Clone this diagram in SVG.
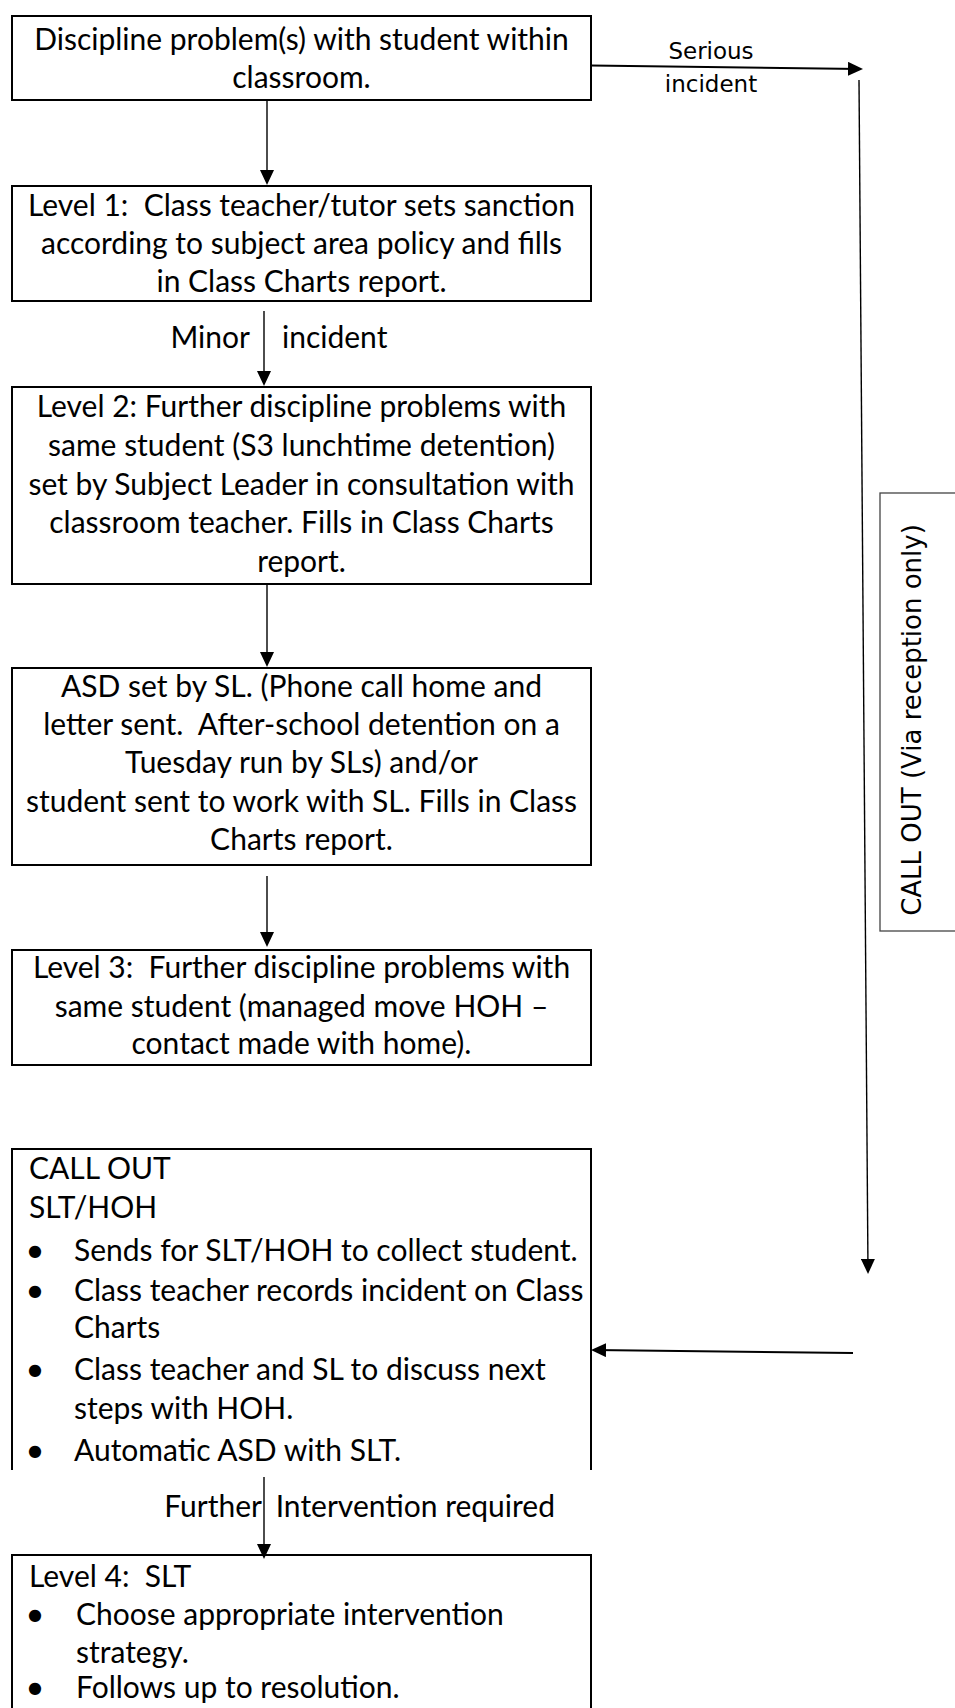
<svg xmlns="http://www.w3.org/2000/svg" width="955" height="1708" viewBox="0 0 955 1708">
<defs>
<style>
.box{fill:#fff;stroke:#000;stroke-width:2}
.open{fill:none;stroke:#000;stroke-width:2}
.t{font-family:Lato,"Liberation Sans",sans-serif;font-size:30px;fill:#000;white-space:pre}
.c{text-anchor:middle}
.v{font-family:"DejaVu Sans",Verdana,sans-serif;fill:#000}
.ln{fill:none;stroke:#000;stroke-width:1.4}
.lnb{fill:none;stroke:#000;stroke-width:2}
.bul{font-family:"DejaVu Sans",sans-serif;font-size:16px;text-anchor:middle}
</style>
<marker id="ah" viewBox="0 0 15 14" refX="12" refY="7" markerWidth="15" markerHeight="14" markerUnits="userSpaceOnUse" orient="auto">
<path d="M0,0 L15,7 L0,14 z" fill="#000"/>
</marker>
</defs>
<rect width="955" height="1708" fill="#fff"/>

<g id="connectors">
<line class="ln" x1="267" y1="100" x2="267" y2="182" marker-end="url(#ah)"/>
<line class="lnb" x1="591" y1="65.5" x2="860" y2="69" marker-end="url(#ah)"/>
<line class="ln" x1="859" y1="80" x2="868" y2="1271" marker-end="url(#ah)"/>
<line class="lnb" x1="853" y1="1353" x2="594" y2="1350" marker-end="url(#ah)"/>
<line class="ln" x1="264" y1="311" x2="264" y2="383" marker-end="url(#ah)"/>
<line class="ln" x1="267" y1="584" x2="267" y2="664" marker-end="url(#ah)"/>
<line class="ln" x1="267" y1="876" x2="267" y2="944" marker-end="url(#ah)"/>
<line class="ln" x1="264" y1="1477" x2="264" y2="1556" marker-end="url(#ah)"/>
<text class="v" font-size="23" text-anchor="middle" x="711" y="59">Serious</text>
<text class="v" font-size="23" text-anchor="middle" x="711" y="92">incident</text>
<text class="t" text-anchor="end" x="250" y="348">Minor</text>
<text class="t" x="282" y="348">incident</text>
<text class="t" y="1517"><tspan x="262" text-anchor="end">Further</tspan><tspan x="268"> Intervention required</tspan></text>
</g>

<g id="n1">
<rect class="box" x="12" y="16" width="579" height="84"/>
<text class="t c" x="301.5" y="50">Discipline problem(s) with student within</text>
<text class="t c" x="301.5" y="88">classroom.</text>
</g>

<g id="n2">
<rect class="box" x="12" y="186" width="579" height="115"/>
<text class="t c" x="301.5" y="216">Level 1:  Class teacher/tutor sets sanction</text>
<text class="t c" x="301.5" y="254">according to subject area policy and fills</text>
<text class="t c" x="301.5" y="292">in Class Charts report.</text>
</g>

<g id="n3">
<rect class="box" x="12" y="387" width="579" height="197"/>
<text class="t c" x="301.5" y="417">Level 2: Further discipline problems with</text>
<text class="t c" x="301.5" y="456">same student (S3 lunchtime detention)</text>
<text class="t c" x="301.5" y="495">set by Subject Leader in consultation with</text>
<text class="t c" x="301.5" y="533">classroom teacher. Fills in Class Charts</text>
<text class="t c" x="301.5" y="572">report.</text>
</g>

<g id="n4">
<rect class="box" x="12" y="668" width="579" height="197"/>
<text class="t c" x="301.5" y="697">ASD set by SL. (Phone call home and</text>
<text class="t c" x="301.5" y="735">letter sent.  After-school detention on a</text>
<text class="t c" x="301.5" y="773">Tuesday run by SLs) and/or</text>
<text class="t c" x="301.5" y="812">student sent to work with SL. Fills in Class</text>
<text class="t c" x="301.5" y="850">Charts report.</text>
</g>

<g id="n5">
<rect class="box" x="12" y="950" width="579" height="115"/>
<text class="t c" x="301.5" y="978">Level 3:  Further discipline problems with</text>
<text class="t c" x="301.5" y="1017">same student (managed move HOH –</text>
<text class="t c" x="301.5" y="1054">contact made with home).</text>
</g>

<g id="n6">
<path class="open" d="M12,1470 V1149 H591 V1470"/>
<text class="t" x="29" y="1179">CALL OUT</text>
<text class="t" x="29" y="1218">SLT/HOH</text>
<text class="bul" x="35" y="1256">●</text>
<text class="t" x="74" y="1261">Sends for SLT/HOH to collect student.</text>
<text class="bul" x="35" y="1296">●</text>
<text class="t" x="74" y="1301">Class teacher records incident on Class</text>
<text class="t" x="74" y="1338">Charts</text>
<text class="bul" x="35" y="1375">●</text>
<text class="t" x="74" y="1380">Class teacher and SL to discuss next</text>
<text class="t" x="74" y="1419">steps with HOH.</text>
<text class="bul" x="35" y="1456">●</text>
<text class="t" x="74" y="1461">Automatic ASD with SLT.</text>
</g>

<g id="n7">
<path class="open" d="M12,1712 V1555 H591 V1712"/>
<text class="t" x="29" y="1587">Level 4:  SLT</text>
<text class="bul" x="35" y="1620">●</text>
<text class="t" x="76" y="1625">Choose appropriate intervention</text>
<text class="t" x="76" y="1663">strategy.</text>
<text class="bul" x="35" y="1693">●</text>
<text class="t" x="76" y="1698">Follows up to resolution.</text>
</g>

<g id="n8">
<rect x="880" y="493" width="100" height="438" fill="#fff" stroke="#444" stroke-width="1.3"/>
<text class="v" font-size="26" text-anchor="middle" x="921" y="720" transform="rotate(-90 921 720)">CALL OUT (Via reception only)</text>
</g>
</svg>
